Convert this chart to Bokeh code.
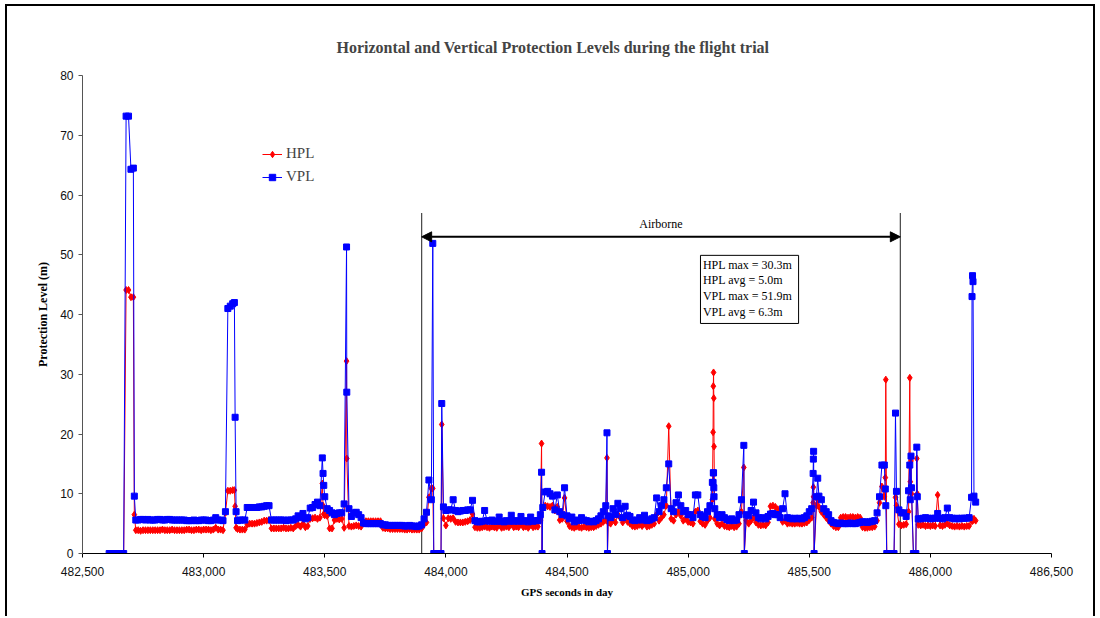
import numpy as np
from bokeh.plotting import figure
from bokeh.models import (Range1d, FixedTicker, NumeralTickFormatter, Legend,
                          LegendItem, Arrow, NormalHead)
from bokeh.core.properties import value
from bokeh.embed import file_html
from bokeh.resources import INLINE

# ---- data: protection levels (m), one sample every 10 s from T_START ----
T_START = 482610
T_STEP = 10

HPL_BASE = [
    0, 0, 0, 0, 0, 0, 0, 44.1, 44.1, 42.9,
    42.9, 3.9, 3.9, 3.8, 3.9, 3.9, 3.9, 3.9, 3.9, 3.9,
    3.9, 3.9, 4.0, 3.9, 3.9, 3.9, 4.0, 3.9, 3.9, 3.9,
    3.9, 3.9, 4.0, 4.0, 3.9, 3.9, 4.0, 4.0, 3.9, 4.0,
    4.0, 4.0, 3.9, 4.0, 4.3, 4.0, 4.0, 3.9, 6.8, 10.5,
    10.5, 10.6, 7.9, 4.1, 4.0, 4.0, 4.0, 4.8, 5.0, 5.0,
    5.0, 5.1, 5.2, 5.3, 5.5, 5.5, 5.6, 4.2, 4.2, 4.2,
    4.2, 4.2, 4.3, 4.2, 4.2, 4.3, 4.2, 4.6, 4.8, 4.5,
    5.0, 4.4, 4.6, 5.8, 5.9, 6.0, 5.8, 6.0, 11.7, 6.4,
    6.3, 4.2, 4.2, 5.6, 5.8, 5.7, 5.8, 4.3, 32.2, 4.6,
    4.5, 4.6, 4.7, 4.6, 4.5, 5.3, 5.4, 5.4, 5.4, 5.4,
    5.4, 5.4, 5.4, 4.3, 4.2, 4.2, 4.1, 4.1, 4.1, 4.1,
    4.1, 4.1, 4.0, 4.0, 4.1, 4.0, 4.0, 4.0, 4.0, 4.2,
    4.9, 5.2, 9.4, 10.9, 0, 0, 0, 0, 5.9, 4.7,
    5.9, 5.8, 5.9, 5.3, 5.2, 5.2, 5.2, 5.3, 5.4, 5.6,
    6.6, 4.4, 4.3, 4.3, 4.4, 4.5, 4.4, 4.3, 4.5, 4.4,
    4.3, 4.8, 4.3, 4.4, 4.5, 4.4, 5.0, 4.4, 4.5, 4.4,
    4.9, 4.4, 4.5, 4.3, 4.8, 4.4, 4.5, 4.5, 5.5, 7.6,
    8.0, 7.9, 7.8, 8.0, 7.2, 7.8, 5.6, 5.8, 9.3, 5.4,
    4.6, 4.4, 4.3, 4.5, 4.4, 4.3, 4.5, 4.4, 4.3, 4.4,
    4.4, 4.6, 4.8, 5.0, 5.3, 5.6, 5.2, 5.0, 5.6, 5.2,
    6.5, 6.0, 5.2, 6.0, 5.3, 5.0, 4.6, 4.5, 4.6, 4.8,
    4.6, 5.0, 4.5, 4.6, 4.8, 5.0, 6.5, 5.5, 6.0, 6.5,
    8.0, 21.3, 5.8, 5.5, 6.5, 7.0, 6.3, 5.5, 5.8, 5.3,
    5.2, 5.0, 7.0, 7.2, 5.4, 5.0, 4.8, 5.5, 6.0, 9.0,
    5.8, 5.0, 4.7, 5.0, 4.6, 4.5, 4.4, 4.6, 4.4, 4.5,
    5.0, 7.0, 14.4, 5.5, 5.0, 5.5, 6.0, 5.2, 4.8, 4.7,
    4.8, 4.7, 5.2, 7.9, 8.0, 7.8, 7.4, 6.3, 5.3, 5.5,
    5.0, 5.1, 5.0, 5.0, 5.1, 5.0, 5.0, 5.1, 5.2, 5.6,
    6.0, 0, 8.0, 7.8, 7.0, 6.5, 6.0, 5.5, 5.0, 4.6,
    4.4, 4.4, 6.0, 6.1, 6.1, 6.0, 6.1, 6.1, 6.0, 6.1,
    6.0, 4.4, 4.3, 4.3, 4.4, 4.4, 4.5, 5.5, 8.5, 11.2,
    9.5, 0, 0, 0, 0, 8.0, 4.9, 4.7, 4.8, 4.9,
    7.0, 15.5, 0, 0, 4.8, 4.7, 4.8, 4.6, 4.7, 4.6,
    4.7, 4.6, 9.8, 4.7, 4.6, 4.8, 5.0, 4.7, 4.6, 4.5,
    4.6, 4.5, 4.6, 4.5, 4.6, 4.6, 5.8, 5.8,
]

VPL_BASE = [
    0, 0, 0, 0, 0, 0, 0, 73.2, 73.2, 64.3,
    64.5, 5.6, 5.6, 5.7, 5.7, 5.6, 5.7, 5.6, 5.6, 5.6,
    5.7, 5.7, 5.6, 5.6, 5.7, 5.7, 5.6, 5.6, 5.6, 5.6,
    5.6, 5.6, 5.5, 5.5, 5.5, 5.6, 5.5, 5.5, 5.6, 5.6,
    5.6, 5.5, 5.5, 5.6, 6.0, 5.6, 5.6, 5.5, 7.0, 41.0,
    41.4, 41.8, 22.8, 5.5, 5.6, 5.6, 5.6, 7.7, 7.7, 7.7,
    7.7, 7.7, 7.8, 7.8, 7.9, 8.0, 8.0, 5.6, 5.6, 5.6,
    5.6, 5.6, 5.6, 5.5, 5.6, 5.6, 5.6, 5.8, 6.3, 6.0,
    6.7, 5.8, 6.0, 7.6, 7.7, 8.2, 8.6, 8.0, 16.0, 9.5,
    7.5, 7.2, 6.8, 6.5, 6.7, 6.8, 6.8, 8.3, 51.3, 7.5,
    6.2, 6.8, 6.9, 6.5, 6.0, 5.1, 5.0, 5.0, 5.0, 5.0,
    5.0, 5.0, 5.0, 4.8, 4.8, 4.7, 4.7, 4.7, 4.7, 4.7,
    4.7, 4.7, 4.6, 4.6, 4.7, 4.6, 4.6, 4.5, 4.6, 4.8,
    5.8, 6.9, 12.3, 9.0, 0, 0, 0, 0, 7.8, 7.2,
    7.3, 7.3, 9.0, 7.2, 7.0, 7.1, 7.2, 7.2, 7.3, 7.3,
    8.9, 5.5, 5.3, 5.3, 5.4, 7.2, 5.5, 5.4, 5.6, 5.4,
    5.4, 6.1, 5.4, 5.3, 5.5, 5.4, 6.4, 5.4, 5.5, 5.4,
    6.2, 5.4, 5.5, 5.3, 6.1, 5.4, 5.5, 5.5, 6.5, 7.7,
    10.3, 10.4, 10.0, 9.6, 7.3, 9.8, 7.0, 6.5, 11.0, 6.3,
    5.8, 6.1, 5.3, 5.6, 5.5, 6.0, 5.6, 5.5, 5.3, 5.4,
    5.3, 5.5, 5.8, 6.3, 7.0, 8.0, 6.3, 6.0, 7.5, 6.5,
    8.4, 7.5, 6.0, 7.9, 6.4, 6.2, 5.6, 5.5, 5.6, 6.0,
    5.6, 6.4, 5.5, 5.6, 5.8, 6.0, 9.3, 7.0, 8.0, 9.0,
    11.0, 15.0, 7.5, 7.0, 8.5, 9.8, 8.0, 7.0, 7.2, 6.5,
    6.5, 6.0, 9.8, 9.8, 6.5, 6.2, 6.0, 7.0, 8.0, 11.9,
    7.5, 6.5, 6.0, 6.5, 6.0, 5.7, 5.5, 5.8, 5.5, 5.6,
    6.5, 9.0, 18.1, 6.5, 6.3, 7.2, 8.6, 6.8, 6.0, 5.8,
    6.0, 5.8, 6.2, 6.6, 6.7, 6.5, 6.5, 6.0, 7.5, 10.0,
    6.0, 5.9, 5.8, 5.9, 5.8, 5.9, 5.8, 6.0, 6.3, 7.0,
    7.5, 0, 9.5, 9.6, 9.0, 7.5, 7.0, 6.5, 5.5, 5.2,
    5.1, 5.0, 5.1, 5.0, 5.0, 5.0, 5.1, 5.0, 5.0, 5.1,
    5.2, 5.3, 5.3, 5.2, 5.3, 5.4, 5.5, 6.8, 9.5, 14.8,
    14.8, 0, 0, 0, 0, 10.4, 7.3, 6.8, 6.8, 6.2,
    10.5, 16.3, 0, 0, 5.8, 5.8, 5.9, 6.0, 5.9, 5.8,
    5.9, 5.9, 6.7, 5.9, 5.8, 6.0, 7.6, 6.0, 5.9, 5.8,
    5.9, 5.8, 5.9, 5.9, 5.9, 6.0, 9.4, 9.6,
]

# short-lived excursions recorded between the 10 s samples
SPIKE_T = [482714, 483127, 483134, 483493, 483496, 483591, 483946, 483983,
           484395, 484397, 484665, 484667, 485103, 485104, 485105, 485106,
           485107, 485232, 485516, 485517, 485518, 485535, 485814, 485816,
           485856, 485915, 485917, 485922, 485944, 485946, 486172, 486174,
           486176, 486187]
SPIKE_HPL = [6.5, 10.6, 4.3, 8.0, 6.6, 15.9, 10.9, 21.6,
             18.4, 0, 16.0, 0, 20.3, 28.0, 30.3, 26.0,
             17.9, 0, 8.5, 11.1, 9.5, 9.0, 12.7, 29.1,
             9.4, 29.4, 12.0, 10.0, 15.9, 10.0, 5.4, 5.5,
             5.6, 5.5]
SPIKE_VPL = [9.6, 42.0, 7.0, 13.4, 11.4, 27.0, 51.9, 25.1,
             13.6, 0, 20.2, 0, 11.9, 13.5, 13.5, 11.0,
             9.5, 0, 13.4, 15.8, 17.1, 12.6, 10.8, 8.0,
             23.5, 14.8, 9.0, 11.0, 17.8, 9.5, 43.0, 46.5,
             45.5, 8.6]

AIRBORNE = (483900, 485876)
STATS = ["HPL max = 30.3m", "HPL avg  = 5.0m", "VPL max = 51.9m", "VPL avg  = 6.3m"]
X_TICKS = [482500, 483000, 483500, 484000, 484500, 485000, 485500, 486000, 486500]
Y_TICKS = [0, 10, 20, 30, 40, 50, 60, 70, 80]

# ---- merge the regular samples with the excursions, in time order ----
base_t = T_START + T_STEP * np.arange(len(HPL_BASE))
t_all = np.concatenate([base_t, np.array(SPIKE_T)])
hpl_all = np.concatenate([np.array(HPL_BASE, float), np.array(SPIKE_HPL, float)])
vpl_all = np.concatenate([np.array(VPL_BASE, float), np.array(SPIKE_VPL, float)])
order = np.argsort(t_all, kind="stable")
t_all, hpl_all, vpl_all = t_all[order], hpl_all[order], vpl_all[order]

SERIF = "Liberation Serif"
SANS = "Liberation Sans"

p = figure(width=1090, height=612, output_backend="svg", toolbar_location=None,
           x_range=Range1d(482500, 486500), y_range=Range1d(0, 80),
           min_border_left=75, min_border_right=46, min_border_top=69,
           min_border_bottom=65)
p.styles = {"border-top": "2px solid #000", "border-left": "2px solid #000",
            "border-right": "2px solid #000", "margin-left": "5px",
            "margin-top": "4px"}
p.outline_line_color = None
p.xgrid.grid_line_color = None
p.ygrid.grid_line_color = None
p.background_fill_color = "white"
p.border_fill_color = "white"

p.title.text = "Horizontal and Vertical Protection Levels during the flight trial"
p.title.text_font = SERIF
p.title.text_font_style = "bold"
p.title.text_font_size = "16px"
p.title.align = "left"
p.title.offset = 254
p.title.standoff = 40

for ax in (p.xaxis[0], p.yaxis[0]):
    ax.major_tick_in = 0
    ax.major_tick_out = 4
    ax.minor_tick_in = 0
    ax.minor_tick_out = 0
    ax.major_label_text_font = SANS
    ax.major_label_text_font_size = "12px"
    ax.major_label_text_color = "#111111"
    ax.axis_label_text_font = SERIF
    ax.axis_label_text_font_style = "bold"
    ax.axis_label_text_color = "#000000"

p.xaxis.ticker = FixedTicker(ticks=X_TICKS)
p.xaxis.formatter = NumeralTickFormatter(format="0,0")
p.xaxis.axis_line_color = "#000000"
p.xaxis.major_tick_line_color = "#000000"
p.xaxis.major_label_standoff = 9
p.xaxis.axis_label = "GPS seconds in day"
p.xaxis.axis_label_text_font_size = "11px"
p.xaxis.axis_label_standoff = 7

p.yaxis.ticker = FixedTicker(ticks=Y_TICKS)
p.yaxis.axis_line_color = "#555555"
p.yaxis.major_tick_line_color = "#555555"
p.yaxis.major_label_standoff = 5
p.yaxis.axis_label = "Protection Level (m)"
p.yaxis.axis_label_text_font_size = "12px"
p.yaxis.axis_label_standoff = 7

# airborne interval
p.segment(x0=[AIRBORNE[0], AIRBORNE[1]], y0=[0, 0],
          x1=[AIRBORNE[0], AIRBORNE[1]], y1=[57.0, 57.0],
          line_color="#444444", line_width=1.2)

# series
hpl_line = p.line(t_all, hpl_all, line_color="#FF0000", line_width=1)
hpl_pts = p.scatter(t_all, hpl_all, marker="diamond", size=7,
                    fill_color="#FF0000", line_color="#FF0000")
vpl_line = p.line(t_all, vpl_all, line_color="#0000FF", line_width=1)
vpl_pts = p.scatter(t_all, vpl_all, marker="square", size=6,
                    fill_color="#0000FF", line_color="#0000FF")

p.add_layout(Arrow(x_start=AIRBORNE[0], y_start=53.0, x_end=AIRBORNE[1], y_end=53.0,
                   line_color="black", line_width=2,
                   start=NormalHead(size=10, fill_color="black", line_color="black"),
                   end=NormalHead(size=10, fill_color="black", line_color="black")))
p.text(x=[(AIRBORNE[0] + AIRBORNE[1]) / 2], y=[55.1], text=["Airborne"],
       text_align="center", text_baseline="middle",
       text_font=value(SERIF), text_font_size="12px", text_color="#000000")

# statistics box
box_l, box_r, box_t, box_b = 485051, 485456, 49.9, 38.5
p.quad(left=[box_l], right=[box_r], top=[box_t], bottom=[box_b],
       fill_color="white", line_color="black", line_width=1)
p.text(x=[box_l + 10] * len(STATS), y=[48.3, 45.7, 43.1, 40.5], text=STATS,
       text_align="left", text_baseline="middle",
       text_font=value(SERIF), text_font_size="12px", text_color="#000000")

legend = Legend(items=[LegendItem(label="HPL", renderers=[hpl_line, hpl_pts]),
                       LegendItem(label="VPL", renderers=[vpl_line, vpl_pts])],
                location=(180, 368), border_line_color=None,
                background_fill_alpha=0, label_text_font=SERIF,
                label_text_font_size="15px", glyph_width=20, glyph_height=16,
                label_height=16, spacing=6, padding=0, margin=0,
                label_standoff=4)
p.add_layout(legend)

open("out.html", "w").write(file_html(p, INLINE))
